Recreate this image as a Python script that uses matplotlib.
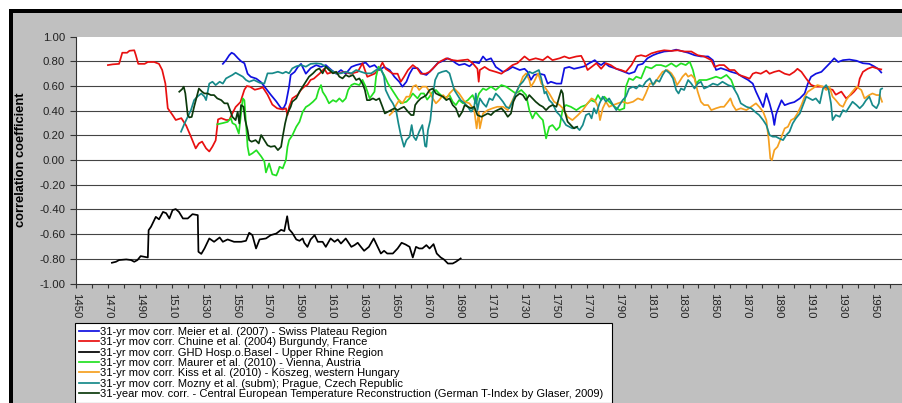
import numpy as np
import matplotlib
matplotlib.use("Agg")
import matplotlib.pyplot as plt
from matplotlib.patches import Rectangle

plt.rcParams['font.family'] = ['Liberation Sans', 'DejaVu Sans']

# 31-yr moving correlations (year, r)
meier_yr = [1542, 1544, 1546, 1547.5, 1549, 1551.5, 1553.5, 1555.5, 1557.5, 1559.5, 1563, 1566, 1569, 1572, 1575.5,
            1578.5, 1580, 1581.5, 1583.5, 1584.5, 1587, 1589, 1591, 1594, 1597, 1600.5, 1603.5, 1606.5, 1610, 1613,
            1616, 1619, 1622.5, 1625.5, 1628.5, 1631.5, 1634, 1637, 1640, 1643, 1646.5, 1649.5, 1652.5, 1654.5, 1657,
            1659, 1661, 1664, 1667, 1669.5, 1673.5, 1676.5, 1680, 1683, 1686, 1688, 1690, 1693.5, 1696.5, 1699.5,
            1702.5, 1705, 1707, 1710, 1713, 1717.5, 1720.5, 1723.5, 1728, 1731, 1733, 1735, 1737, 1740.5, 1743.5,
            1745.5, 1747.5, 1751, 1754, 1756, 1759, 1762, 1765.5, 1768.5, 1771.5, 1773, 1775, 1777, 1779, 1781, 1784,
            1787.5, 1790.5, 1793.5, 1796.5, 1800, 1802, 1805, 1808, 1811.5, 1814.5, 1818.5, 1823, 1826, 1829, 1833.5,
            1837.5, 1841.5, 1846, 1849, 1851, 1854, 1857.5, 1860.5, 1864.5, 1867.5, 1871, 1874, 1876, 1878, 1880.5,
            1882.5, 1884.5, 1886.5, 1887.5, 1888.5, 1889.5, 1892, 1894, 1897, 1900, 1903.5, 1906.5, 1908.5, 1910.5,
            1913.5, 1917, 1920, 1923, 1925, 1927.5, 1930.5, 1934.5, 1939, 1943, 1947, 1950, 1952.5, 1954.5]
meier_r = [0.78, 0.81, 0.85, 0.87, 0.86, 0.825, 0.80, 0.785, 0.70, 0.675, 0.66, 0.63, 0.58, 0.53, 0.475,
           0.42, 0.42, 0.46, 0.595, 0.69, 0.715, 0.755, 0.78, 0.70, 0.745, 0.77, 0.755, 0.77, 0.73, 0.70,
           0.73, 0.70, 0.755, 0.77, 0.78, 0.79, 0.755, 0.77, 0.73, 0.755, 0.73, 0.675, 0.635, 0.595, 0.635,
           0.70, 0.745, 0.745, 0.70, 0.69, 0.74, 0.785, 0.805, 0.825, 0.805, 0.785, 0.77, 0.78, 0.76, 0.795,
           0.785, 0.84, 0.81, 0.825, 0.755, 0.715, 0.73, 0.755, 0.73, 0.74, 0.715, 0.65, 0.69, 0.70, 0.69,
           0.62, 0.635, 0.62, 0.62, 0.745, 0.755, 0.74, 0.75, 0.76, 0.785, 0.795, 0.81, 0.785, 0.77, 0.79, 0.76,
           0.745, 0.73, 0.715, 0.70, 0.715, 0.77, 0.78, 0.825, 0.85, 0.865, 0.88, 0.885, 0.895, 0.885, 0.87,
           0.85, 0.84, 0.84, 0.81, 0.73, 0.745, 0.73, 0.715, 0.70, 0.675, 0.65, 0.62, 0.555, 0.50, 0.43,
           0.54, 0.46, 0.365, 0.285, 0.365, 0.405, 0.485, 0.445, 0.46, 0.47, 0.50, 0.54, 0.62, 0.675,
           0.70, 0.715, 0.755, 0.795, 0.825, 0.795, 0.81, 0.815, 0.805, 0.785, 0.78, 0.76, 0.74, 0.71]

chuine_yr = [1470, 1473, 1477, 1479, 1482, 1483.5, 1486.5, 1487.5, 1489, 1493, 1495, 1499, 1502, 1504, 1506, 1507.5,
             1510.5, 1512.5, 1516, 1519, 1522, 1525, 1527, 1529, 1531.5, 1533.5, 1535.5, 1537.5, 1539, 1541, 1544,
             1546, 1548, 1550, 1553, 1555.5, 1557, 1559, 1562, 1565, 1567, 1570, 1573, 1576, 1579.5, 1581.5, 1582.5,
             1583.5, 1585.5, 1589, 1591, 1593, 1595, 1597, 1599, 1602.5, 1605.5, 1607.5, 1611, 1614, 1618, 1622,
             1626.5, 1629.5, 1632.5, 1637, 1640, 1642, 1644, 1648.5, 1651.5, 1653.5, 1655.5, 1658, 1661, 1664, 1666,
             1669, 1671.5, 1674.5, 1677.5, 1682, 1686, 1689, 1692, 1695.5, 1698.5, 1701.5, 1702.3, 1703, 1706, 1709,
             1713, 1716.5, 1719.5, 1723.5, 1726.5, 1731, 1734, 1738, 1742.5, 1745.5, 1748.5, 1753, 1756, 1759,
             1763.5, 1766.5, 1768.5, 1770.5, 1773, 1776, 1779, 1782, 1785, 1788.5, 1791.5, 1794.5, 1798, 1801, 1804,
             1807, 1810.5, 1814.5, 1818.5, 1823, 1827, 1831, 1835.5, 1839.5, 1843.5, 1848, 1850, 1853, 1856, 1859.5,
             1862.5, 1865.5, 1869, 1872, 1874, 1876, 1879, 1882.5, 1884.5, 1887.5, 1890.5, 1894, 1897, 1900, 1902,
             1904.5, 1907.5, 1910.5, 1913.5, 1918, 1921, 1924, 1926, 1929.5, 1932.5, 1935.5, 1937.5, 1940, 1941,
             1943, 1946, 1949, 1952.5, 1954.5]
chuine_r = [0.77, 0.776, 0.78, 0.87, 0.87, 0.886, 0.89, 0.85, 0.78, 0.78, 0.795, 0.795, 0.78, 0.73, 0.62, 0.42,
            0.365, 0.325, 0.34, 0.28, 0.19, 0.095, 0.135, 0.15, 0.095, 0.07, 0.11, 0.16, 0.33, 0.34, 0.325,
            0.325, 0.38, 0.43, 0.47, 0.57, 0.60, 0.595, 0.57, 0.58, 0.59, 0.53, 0.45, 0.42, 0.41, 0.42, 0.365,
            0.43, 0.50, 0.53, 0.57, 0.595, 0.61, 0.65, 0.66, 0.70, 0.74, 0.70, 0.715, 0.70, 0.715, 0.70,
            0.715, 0.785, 0.675, 0.70, 0.74, 0.79, 0.74, 0.70, 0.70, 0.635, 0.675, 0.73, 0.77, 0.74, 0.70,
            0.70, 0.715, 0.755, 0.795, 0.825, 0.81, 0.805, 0.81, 0.815, 0.785, 0.74, 0.635, 0.73, 0.755, 0.73,
            0.715, 0.70, 0.73, 0.77, 0.785, 0.84, 0.81, 0.825, 0.81, 0.84, 0.81, 0.825, 0.84, 0.825,
            0.84, 0.845, 0.795, 0.73, 0.755, 0.785, 0.74, 0.785, 0.77, 0.74, 0.73, 0.715, 0.77, 0.84, 0.85,
            0.84, 0.865, 0.88, 0.89, 0.885, 0.89, 0.88, 0.88, 0.85, 0.84, 0.81, 0.755, 0.77, 0.77, 0.73,
            0.73, 0.69, 0.675, 0.66, 0.70, 0.71, 0.70, 0.725, 0.70, 0.715, 0.725, 0.70, 0.69, 0.715, 0.74,
            0.715, 0.66, 0.61, 0.595, 0.595, 0.58, 0.57, 0.53, 0.555, 0.50, 0.53, 0.555, 0.595, 0.66,
            0.715, 0.74, 0.755, 0.74, 0.735]

ghd_yr = [1472.5, 1475, 1477, 1481.5, 1484.5, 1486.5, 1488.5, 1490.5, 1493, 1495, 1495.5, 1497, 1500, 1502, 1504.5,
          1506.5, 1508.5, 1510.5, 1512.5, 1514.5, 1517, 1520, 1523, 1526.3, 1526.7, 1528.5, 1530.5, 1533.5, 1536.5,
          1540, 1542, 1545, 1549, 1553.5, 1556.5, 1558.5, 1560.5, 1562.8, 1565, 1569, 1572, 1575.5, 1578.5, 1580.5,
          1582.3, 1583.5, 1585.5, 1588, 1590, 1592, 1593, 1595, 1597, 1599.5, 1601.5, 1604.5, 1606.5, 1609.5, 1612,
          1614, 1616, 1619, 1622.5, 1624.5, 1626.5, 1628.5, 1630.5, 1633.5, 1636.5, 1639, 1641, 1643, 1645, 1648.5,
          1651.5, 1654, 1656.5, 1659, 1661, 1663, 1665, 1667, 1669.5, 1671.5, 1674, 1676, 1678.5, 1680.5, 1683,
          1686, 1688, 1691]
ghd_r = [-0.832, -0.824, -0.81, -0.805, -0.81, -0.824, -0.81, -0.778, -0.784, -0.789, -0.568, -0.54, -0.46, -0.48,
         -0.42, -0.43, -0.473, -0.405, -0.397, -0.42, -0.473, -0.473, -0.438, -0.446, -0.743, -0.76, -0.716, -0.635,
         -0.662, -0.627, -0.662, -0.643, -0.662, -0.662, -0.654, -0.589, -0.608, -0.716, -0.643, -0.635, -0.608,
         -0.595, -0.565, -0.575, -0.455, -0.56, -0.59, -0.643, -0.654, -0.635, -0.67, -0.703, -0.643, -0.608,
         -0.662, -0.662, -0.703, -0.635, -0.662, -0.643, -0.676, -0.635, -0.703, -0.689, -0.67, -0.703, -0.735,
         -0.703, -0.635, -0.703, -0.757, -0.735, -0.757, -0.757, -0.716, -0.67, -0.684, -0.703, -0.789, -0.703,
         -0.716, -0.716, -0.689, -0.716, -0.681, -0.757, -0.789, -0.805, -0.838, -0.838, -0.824, -0.797]

maurer_yr = [1538.5, 1542, 1545, 1547, 1548, 1550, 1552, 1553.5, 1554.5, 1555.5, 1556.5, 1557.5, 1558.5, 1560.5, 1563,
             1566, 1568, 1569, 1571, 1573, 1575.5, 1576.5, 1577.5, 1579.5, 1581.5, 1582.5, 1583.5, 1585.5, 1588, 1590,
             1592, 1594, 1596, 1598.5, 1600.5, 1602, 1603.5, 1604.5, 1606.5, 1608.5, 1611, 1613, 1615, 1617, 1619,
             1620.5, 1622.5, 1624.5, 1627.5, 1629.5, 1631.5, 1634, 1637, 1638, 1639.5, 1641, 1643, 1645.5, 1647.5,
             1649.5, 1651.5, 1653.5, 1657, 1659, 1661, 1664, 1666, 1668, 1670, 1671.5, 1673.5, 1675.5, 1677.5, 1681,
             1684, 1686, 1688, 1690, 1692.5, 1695.5, 1698.5, 1700.5, 1702.5, 1705, 1707, 1710, 1713, 1716.5, 1719.5,
             1722.5, 1725.5, 1729, 1732, 1734, 1736, 1738, 1740.5, 1742.5, 1744.5, 1746.5, 1748.5, 1751, 1753, 1755,
             1757, 1760, 1763.5, 1766.5, 1769.5, 1772.5, 1775, 1777, 1779, 1781, 1784, 1787.5, 1790.5, 1793.5, 1794.5,
             1796.5, 1799, 1801, 1804, 1807, 1810.5, 1813.5, 1816.5, 1819.5, 1823, 1826, 1829, 1832, 1834.5, 1836.5,
             1838.5, 1840.5, 1845, 1848, 1851, 1854, 1857.5, 1860.5, 1862.5]
maurer_r = [0.29, 0.30, 0.31, 0.34, 0.30, 0.285, 0.215, 0.39, 0.50, 0.485, 0.30, 0.11, 0.04, 0.055, 0.08,
            0.03, -0.01, -0.10, -0.027, -0.115, -0.125, -0.095, -0.054, -0.067, 0.0, 0.108, 0.162, 0.20, 0.27, 0.31,
            0.39, 0.43, 0.446, 0.473, 0.50, 0.568, 0.608, 0.554, 0.514, 0.46, 0.486, 0.473, 0.50, 0.473, 0.50,
            0.568, 0.608, 0.62, 0.608, 0.65, 0.595, 0.50, 0.554, 0.676, 0.757, 0.73, 0.69, 0.62, 0.58,
            0.54, 0.50, 0.46, 0.473, 0.50, 0.54, 0.50, 0.54, 0.54, 0.49, 0.514, 0.554, 0.568, 0.54, 0.50,
            0.527, 0.473, 0.446, 0.486, 0.46, 0.486, 0.527, 0.46, 0.54, 0.58, 0.568, 0.595, 0.568, 0.608, 0.595,
            0.568, 0.54, 0.568, 0.527, 0.405, 0.338, 0.39, 0.35, 0.324, 0.176, 0.27, 0.284, 0.243, 0.27, 0.42,
            0.446, 0.432, 0.405, 0.432, 0.446, 0.486, 0.473, 0.527, 0.486, 0.514, 0.473, 0.432, 0.405, 0.42, 0.595,
            0.662, 0.649, 0.676, 0.662, 0.757, 0.743, 0.77, 0.77, 0.757, 0.784, 0.757, 0.784, 0.77, 0.797, 0.73,
            0.62, 0.649, 0.649, 0.662, 0.676, 0.662, 0.69, 0.649, 0.58]

kiss_yr = [1646.5, 1648.5, 1650.5, 1652.5, 1654.5, 1657, 1659, 1661, 1663, 1665, 1667, 1669.5, 1671.5, 1673.5, 1675.5,
           1677.5, 1680, 1682, 1684, 1687, 1690, 1693.5, 1696.5, 1699.5, 1701, 1702.3, 1703, 1705, 1708, 1711, 1714,
           1717.5, 1720.5, 1723.5, 1725.5, 1728, 1730, 1732, 1734, 1735, 1737, 1739.5, 1741.5, 1743.5, 1746.5, 1749.5,
           1753, 1755, 1758, 1761, 1764.5, 1767.5, 1770.5, 1773, 1775, 1777, 1778.3, 1780, 1782, 1784, 1786.5, 1789.5,
           1792.5, 1795.5, 1799, 1802, 1805, 1807, 1809.5, 1812.5, 1814.5, 1817.5, 1820.5, 1823, 1825, 1826.5, 1828,
           1830, 1832, 1833.5, 1835.5, 1837.5, 1839.5, 1841.5, 1843.5, 1846, 1848, 1851, 1854, 1856, 1858.5, 1860,
           1861.5, 1863.5, 1866.5, 1870, 1873, 1876, 1878, 1880.5, 1882.5, 1884, 1885, 1886, 1887.5, 1889.5, 1892,
           1894, 1896, 1898, 1900, 1902, 1904.5, 1906.5, 1908.5, 1911.5, 1914.5, 1918, 1920, 1922, 1924, 1926,
           1928.5, 1930.5, 1932.5, 1935.5, 1939, 1942, 1944, 1947, 1949, 1951.5, 1953.5, 1955]
kiss_r = [0.365, 0.39, 0.446, 0.486, 0.46, 0.514, 0.514, 0.595, 0.608, 0.568, 0.595, 0.595, 0.554, 0.50, 0.46,
          0.486, 0.527, 0.50, 0.54, 0.58, 0.54, 0.473, 0.46, 0.405, 0.257, 0.39, 0.257, 0.378, 0.405, 0.42, 0.432,
          0.432, 0.405, 0.486, 0.54, 0.608, 0.676, 0.703, 0.649, 0.595, 0.635, 0.703, 0.62, 0.595, 0.54, 0.473,
          0.446, 0.42, 0.35, 0.324, 0.365, 0.405, 0.46, 0.50, 0.486, 0.432, 0.324, 0.42, 0.473, 0.432, 0.446, 0.46,
          0.473, 0.46, 0.473, 0.50, 0.486, 0.54, 0.62, 0.62, 0.662, 0.716, 0.73, 0.703, 0.662, 0.608, 0.635,
          0.676, 0.703, 0.676, 0.69, 0.662, 0.554, 0.473, 0.446, 0.446, 0.405, 0.42, 0.432, 0.432, 0.473, 0.50,
          0.446, 0.405, 0.42, 0.405, 0.432, 0.46, 0.432, 0.392, 0.324, 0.162, 0.013, 0.0, 0.081, 0.108, 0.189,
          0.257, 0.27, 0.324, 0.338, 0.378, 0.446, 0.514, 0.554, 0.58, 0.608, 0.595, 0.568, 0.595, 0.514, 0.486,
          0.446, 0.432, 0.486, 0.54, 0.595, 0.568, 0.50, 0.527, 0.54, 0.527, 0.527, 0.473]

mozny_yr = [1515.8, 1518, 1520, 1522, 1524, 1526, 1528.5, 1530.5, 1531.5, 1533.5, 1535.5, 1537.5, 1540, 1542, 1544,
            1546, 1548, 1550, 1552.5, 1554.5, 1556.5, 1558.5, 1561.5, 1565, 1568, 1570, 1573, 1576.5, 1579.5, 1581.5,
            1583.5, 1585.5, 1588, 1591, 1594, 1597, 1600.5, 1603.5, 1606.5, 1609.5, 1613, 1616, 1619, 1622.5, 1625.5,
            1628.5, 1631.5, 1635, 1638, 1641, 1643, 1644, 1646.5, 1648.5, 1650.5, 1652, 1653.5, 1655.5, 1657, 1659,
            1660.3, 1661.5, 1663, 1665, 1667, 1668.7, 1669.5, 1670.5, 1672, 1673.5, 1675, 1677, 1679.5, 1682, 1684,
            1685.5, 1687, 1689, 1691, 1693.5, 1695.5, 1697.5, 1699.5, 1700.5, 1701.5, 1703, 1705, 1707, 1709, 1711,
            1713, 1715, 1717.5, 1719.5, 1721.5, 1723.5, 1725.5, 1728, 1730, 1732, 1734, 1736, 1738, 1740, 1741.5,
            1743.5, 1744.5, 1746.5, 1748.5, 1751, 1753, 1755, 1757, 1759, 1761, 1763.5, 1765.5, 1767.5, 1769.5,
            1771.5, 1773, 1774.5, 1776, 1778, 1780, 1782, 1784, 1786.5, 1788.5, 1790.5, 1792.5, 1794.5, 1796.5, 1799,
            1801, 1803, 1805, 1807, 1809.5, 1811.5, 1813.5, 1815.5, 1817.5, 1819.5, 1822, 1824, 1826, 1827.5, 1829,
            1831, 1833.5, 1835.5, 1837.5, 1839.5, 1841.5, 1843.5, 1846, 1849, 1852, 1855, 1858.5, 1861.5, 1864.5,
            1866.5, 1870, 1873, 1876, 1878, 1880.5, 1882.5, 1884.5, 1886.5, 1888.5, 1890.5, 1893, 1895, 1897, 1899,
            1901, 1903.5, 1905.5, 1907.5, 1909.5, 1911.5, 1913.5, 1916, 1918, 1920, 1921.5, 1923, 1924, 1926, 1928.5,
            1930.5, 1932.5, 1934.5, 1936.5, 1939, 1941, 1943, 1945, 1947, 1949, 1951.5, 1953, 1954, 1955]
mozny_r = [0.23, 0.297, 0.35, 0.405, 0.486, 0.514, 0.54, 0.514, 0.486, 0.62, 0.635, 0.608, 0.635, 0.62, 0.662,
           0.676, 0.69, 0.708, 0.69, 0.676, 0.649, 0.635, 0.649, 0.627, 0.62, 0.703, 0.703, 0.716, 0.703, 0.716,
           0.703, 0.743, 0.76, 0.77, 0.757, 0.78, 0.784, 0.78, 0.757, 0.73, 0.703, 0.703, 0.716, 0.703, 0.73,
           0.716, 0.703, 0.703, 0.73, 0.743, 0.676, 0.568, 0.50, 0.46, 0.405, 0.297, 0.203, 0.108, 0.162, 0.19,
           0.284, 0.19, 0.162, 0.23, 0.284, 0.114, 0.108, 0.243, 0.324, 0.514, 0.649, 0.703, 0.716, 0.724, 0.703,
           0.635, 0.568, 0.527, 0.486, 0.46, 0.432, 0.392, 0.432, 0.54, 0.405, 0.50, 0.46, 0.432, 0.50, 0.486,
           0.54, 0.514, 0.473, 0.432, 0.42, 0.473, 0.54, 0.608, 0.635, 0.676, 0.716, 0.703, 0.716, 0.73, 0.662,
           0.54, 0.554, 0.486, 0.46, 0.392, 0.365, 0.324, 0.284, 0.27, 0.257, 0.27, 0.243, 0.284, 0.365,
           0.378, 0.338, 0.42, 0.378, 0.46, 0.514, 0.473, 0.50, 0.446, 0.405, 0.446, 0.486, 0.514, 0.58, 0.595,
           0.58, 0.608, 0.595, 0.635, 0.662, 0.608, 0.649, 0.635, 0.689, 0.73, 0.703, 0.662, 0.568, 0.54, 0.58,
           0.568, 0.649, 0.62, 0.58, 0.62, 0.635, 0.58, 0.595, 0.62, 0.608, 0.635, 0.608, 0.595, 0.527,
           0.46, 0.432, 0.42, 0.385, 0.365, 0.324, 0.284, 0.203, 0.19, 0.19, 0.176, 0.162, 0.203, 0.23, 0.297,
           0.338, 0.378, 0.446, 0.514, 0.50, 0.486, 0.50, 0.46, 0.58, 0.608, 0.568, 0.46, 0.324, 0.365, 0.351,
           0.405, 0.392, 0.432, 0.473, 0.446, 0.42, 0.446, 0.486, 0.514, 0.446, 0.42, 0.46, 0.573, 0.58]

glaser_yr = [1514.7, 1516.5, 1517.5, 1518.5, 1520, 1521, 1522.5, 1524, 1526, 1527, 1529, 1530.5, 1532.5, 1534.5,
             1536.5, 1538.5, 1541, 1543, 1545, 1546.5, 1548, 1550, 1551.3, 1552.3, 1553.4, 1555, 1556, 1557.5, 1558.5,
             1560, 1562.5, 1564.5, 1566, 1568, 1570, 1572, 1574.5, 1576.5, 1578.5, 1579.5, 1581, 1582.5, 1584.5,
             1585.5, 1588, 1590, 1592, 1594, 1596, 1598.5, 1600.5, 1602.5, 1604.5, 1606.5, 1608.5, 1611, 1613, 1615,
             1617, 1619, 1621, 1623.5, 1625.5, 1627.5, 1629.5, 1631, 1632.3, 1634, 1636, 1638, 1640, 1642, 1643.5,
             1645.5, 1647.5, 1649.5, 1651.5, 1653.5, 1655.5, 1658, 1660, 1661.5, 1662.5, 1664, 1666, 1668, 1669.5,
             1671.5, 1673.5, 1675.5, 1677.5, 1680, 1682, 1684, 1686, 1688, 1690, 1692, 1693.5, 1695.5, 1697.5,
             1699.5, 1701.5, 1704, 1706, 1708, 1710, 1712, 1714, 1716.5, 1718.5, 1720.5, 1722.5, 1724, 1725.5, 1728,
             1730, 1732, 1734, 1736, 1738, 1740.5, 1742.5, 1744.5, 1746.5, 1748.5, 1751, 1752.5, 1754, 1755, 1756,
             1758, 1760, 1762, 1764]
glaser_r = [0.554, 0.575, 0.595, 0.54, 0.365, 0.346, 0.35, 0.432, 0.53, 0.58, 0.554, 0.54, 0.54, 0.527,
            0.527, 0.50, 0.486, 0.46, 0.46, 0.405, 0.35, 0.324, 0.392, 0.297, 0.446, 0.432, 0.324, 0.243, 0.162,
            0.149, 0.162, 0.135, 0.203, 0.162, 0.12, 0.108, 0.114, 0.081, 0.108, 0.19, 0.297, 0.378, 0.432,
            0.473, 0.50, 0.554, 0.595, 0.635, 0.676, 0.703, 0.73, 0.743, 0.703, 0.757, 0.73, 0.703, 0.716, 0.676,
            0.662, 0.69, 0.676, 0.69, 0.649, 0.662, 0.62, 0.568, 0.486, 0.486, 0.50, 0.486, 0.50, 0.432, 0.378,
            0.392, 0.405, 0.42, 0.405, 0.42, 0.432, 0.392, 0.365, 0.365, 0.446, 0.473, 0.50, 0.514, 0.527,
            0.568, 0.58, 0.54, 0.527, 0.514, 0.486, 0.50, 0.446, 0.42, 0.351, 0.392, 0.446, 0.432, 0.42,
            0.432, 0.365, 0.351, 0.365, 0.378, 0.365, 0.392, 0.405, 0.42, 0.392, 0.351, 0.378, 0.473, 0.514, 0.54,
            0.527, 0.486, 0.527, 0.50, 0.473, 0.446, 0.432, 0.405, 0.432, 0.446, 0.432, 0.50, 0.568, 0.54, 0.405,
            0.311, 0.284, 0.257, 0.27]

labels = ["31-yr mov corr. Meier et al. (2007) - Swiss Plateau Region",
          "31-yr mov corr. Chuine et al. (2004) Burgundy, France",
          "31-yr mov corr. GHD Hosp.o.Basel - Upper Rhine Region",
          "31-yr mov corr. Maurer et al. (2010) - Vienna, Austria",
          "31-yr mov corr. Kiss et al. (2010) - K\u00f6szeg, western Hungary",
          "31-yr mov corr. Mozny et al. (subm); Prague, Czech Republic",
          "31-year mov. corr. - Central European Temperature Reconstruction (German T-Index by Glaser, 2009)"]
colors = ['#1010e0', '#e81010', '#000000', '#22e022', '#f5a020', '#178a8a', '#0c3a0c']

year_ticks = list(range(1450, 1971, 20))
r_ticks = [-1.0, -0.8, -0.6, -0.4, -0.2, 0.0, 0.2, 0.4, 0.6, 0.8, 1.0]

W, H = 903, 403
fig = plt.figure(figsize=(W / 100, H / 100), dpi=100, facecolor='white')

# Excel-style chart area: black frame (cut off on the right/bottom), grey fill
fig.patches.append(Rectangle((9 / W, -0.02), 1.05, 1 - 9 / H + 0.02, transform=fig.transFigure,
                             facecolor='black', edgecolor='none', zorder=-2))
fig.patches.append(Rectangle((13 / W, -0.02), 1.05, 1 - 13 / H + 0.02, transform=fig.transFigure,
                             facecolor='#c0c0c0', edgecolor='none', zorder=-1))

ax = fig.add_axes([76 / W, 1 - 283.5 / H, 830 / W, (283.5 - 36.7) / H])
ax.set_facecolor('white')

series = [(meier_yr, meier_r), (chuine_yr, chuine_r), (ghd_yr, ghd_r), (maurer_yr, maurer_r),
          (kiss_yr, kiss_r), (mozny_yr, mozny_r), (glaser_yr, glaser_r)]
for (yr, r), lab, c in zip(series, labels, colors):
    ax.plot(yr, r, color=c, lw=1.25, label=lab, zorder=3)

ax.set_xlim(1450, 1970)
ax.set_ylim(-1.0, 1.0)
ax.set_xticks(year_ticks)
ax.set_xticklabels([str(y) for y in year_ticks], rotation=-90, va='top', ha='center')
ax.set_xticks([y + 10 for y in year_ticks[:-1]], minor=True)
ax.set_yticks(r_ticks)
ax.set_yticklabels([f"{v:.2f}".replace('-0.00', '0.00') for v in r_ticks])
for v in r_ticks[1:-1]:
    ax.axhline(v, color='#444444', lw=0.8, zorder=1)

for s in ['top', 'right']:
    ax.spines[s].set_visible(False)
for s in ['left', 'bottom']:
    ax.spines[s].set_color('#333333')
    ax.spines[s].set_linewidth(0.8)

ax.tick_params(axis='y', which='major', direction='out', length=4.3, width=0.8, color='#333333',
               labelsize=8.2, labelcolor='#222222', pad=3.5)
ax.tick_params(axis='x', which='both', direction='out', length=3, width=0.8, color='#333333',
               labelsize=8.2, labelcolor='#222222', pad=4)

fig.text(21 / W, 1 - 160 / H, 'correlation coefficient', rotation=90, ha='center', va='center',
         fontsize=9.3, fontweight='bold', color='black')

leg = fig.legend(loc='upper left', bbox_to_anchor=(75 / W, 1 - 323 / H, (612 - 75) / W, 0.001),
                 bbox_transform=fig.transFigure, mode='expand', fontsize=8.0, frameon=True,
                 fancybox=False, borderaxespad=0, borderpad=0.4, handlelength=1.8, handletextpad=0.05,
                 labelspacing=0.03, framealpha=1, facecolor='white', edgecolor='black')
leg.get_frame().set_linewidth(0.8)
for line in leg.get_lines():
    line.set_linewidth(1.25)

fig.savefig('out.png', dpi=100, facecolor=fig.get_facecolor())
